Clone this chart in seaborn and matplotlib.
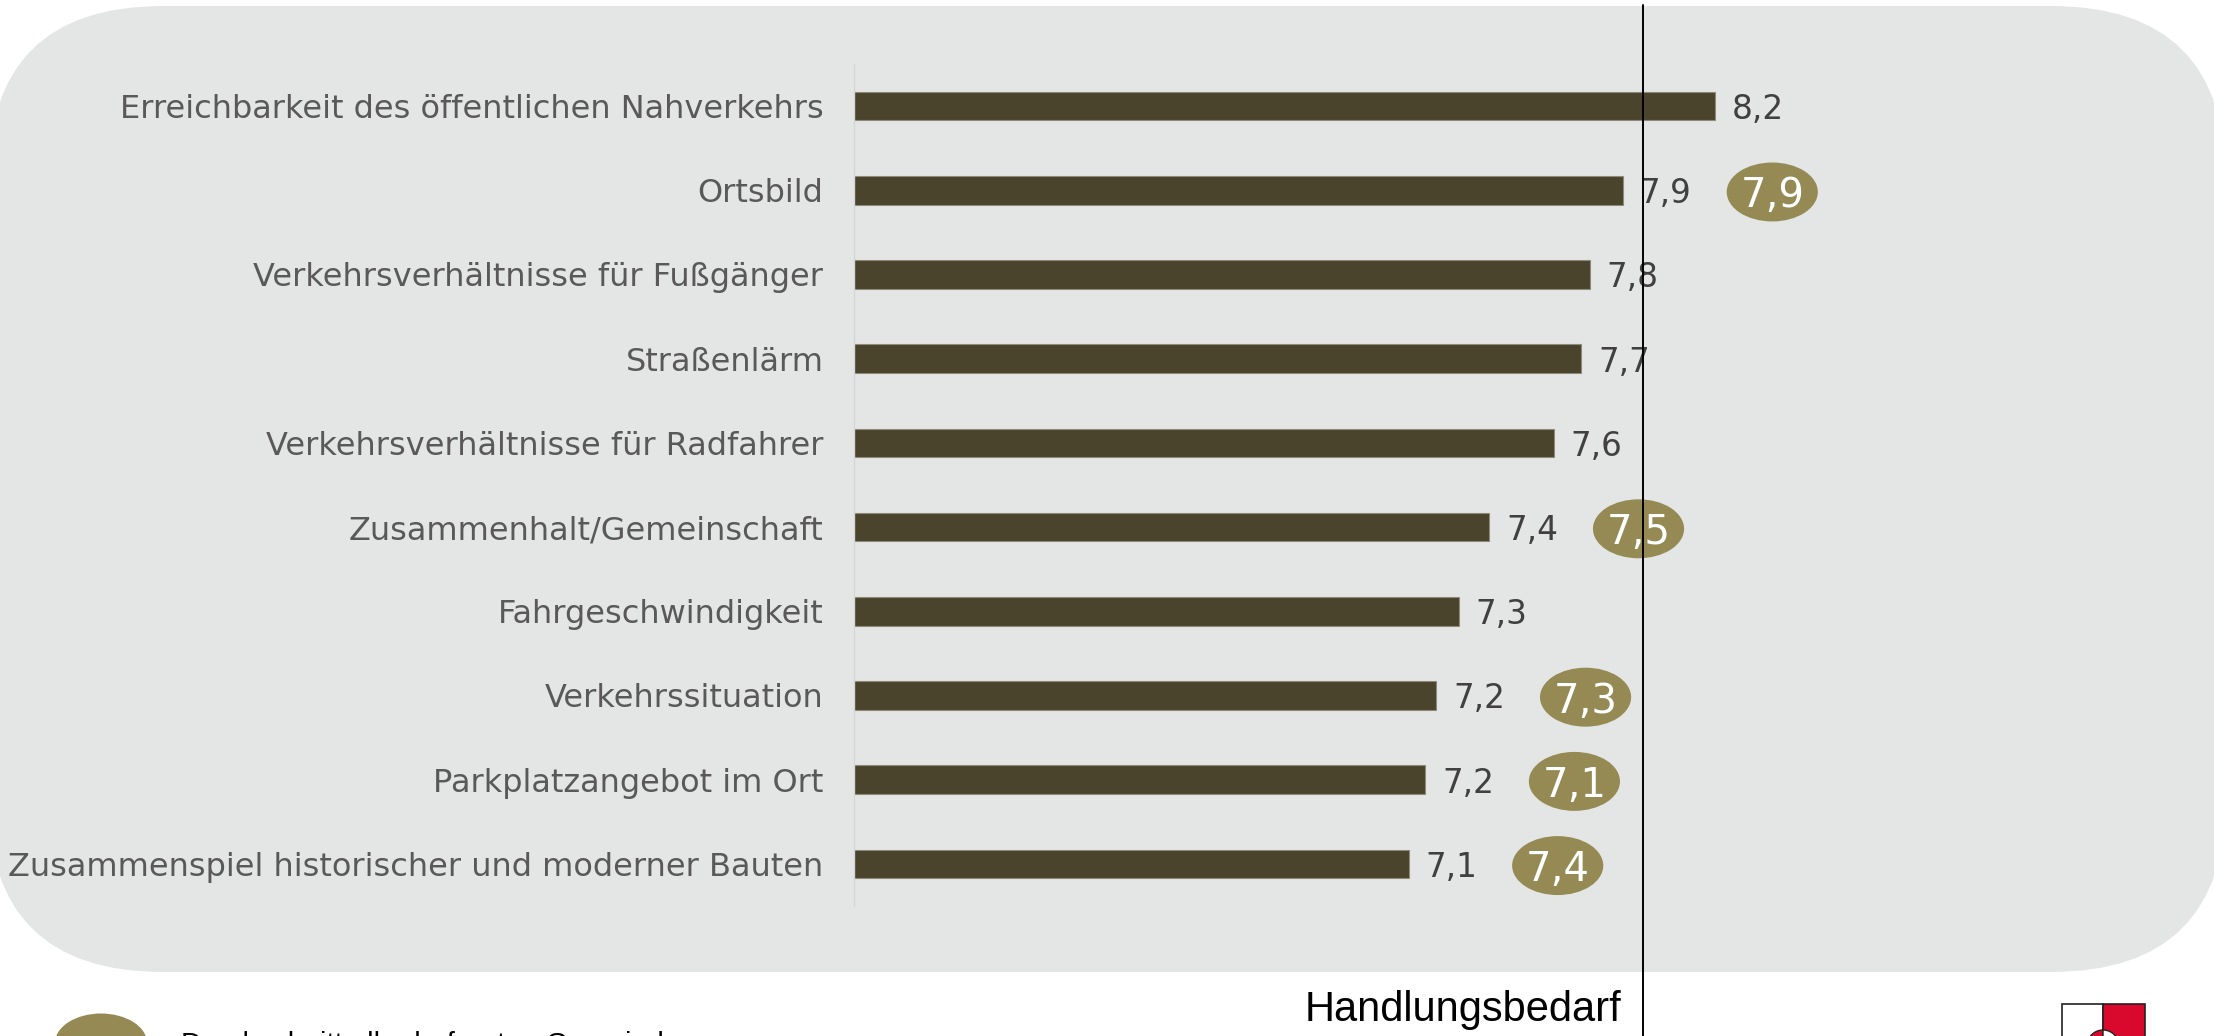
import matplotlib
matplotlib.use("Agg")
import matplotlib.pyplot as plt
from matplotlib.patches import FancyBboxPatch, Ellipse, Rectangle, Wedge
import seaborn as sns
import pandas as pd

# ---------------- data ----------------
categories = [
    "Erreichbarkeit des öffentlichen Nahverkehrs",
    "Ortsbild",
    "Verkehrsverhältnisse für Fußgänger",
    "Straßenlärm",
    "Verkehrsverhältnisse für Radfahrer",
    "Zusammenhalt/Gemeinschaft",
    "Fahrgeschwindigkeit",
    "Verkehrssituation",
    "Parkplatzangebot im Ort",
    "Zusammenspiel historischer und moderner Bauten",
]
values = [8.21, 7.88, 7.76, 7.73, 7.63, 7.40, 7.29, 7.21, 7.17, 7.11]
value_labels = ["8,2", "7,9", "7,8", "7,7", "7,6", "7,4", "7,3", "7,2", "7,2", "7,1"]
avg_labels = ["", "7,9", "", "", "", "7,5", "", "7,3", "7,1", "7,4"]
threshold = 7.95
threshold_label = "Handlungsbedarf"
legend_label = "Durchschnitt aller befragten Gemeinden"

# ---------------- style ----------------
BAR = "#4a442d"
OLIVE = "#958a53"
PANEL = "#e4e6e5"
LABEL = "#595959"
VALUE = "#404040"

sns.set_style("white")
plt.rcParams["font.family"] = ["DejaVu Sans"]

W, H = 2214, 1036
fig = plt.figure(figsize=(W / 100, H / 100), dpi=100)
fig.patch.set_facecolor("white")

# background axes in pixel units
bg = fig.add_axes([0, 0, 1, 1], zorder=0)
bg.set_xlim(0, W)
bg.set_ylim(0, H)
bg.axis("off")
bg.add_patch(FancyBboxPatch((-12, 64), W + 24, 966,
                            boxstyle="round,pad=0,rounding_size=175",
                            facecolor=PANEL, edgecolor="none"))

# legend ellipse + text (cut off at bottom)
bg.add_patch(Ellipse((101, -7), 92, 59, facecolor=OLIVE, edgecolor="none", clip_on=False))
bg.text(181, -17, legend_label, fontsize=21, color="black",
        family=["Liberation Sans", "DejaVu Sans"], ha="left", va="baseline")

# logo (coat of arms, partially visible)
bg.add_patch(Rectangle((2062, -40), 41, 72, facecolor="white", edgecolor="#222222", lw=1.2, clip_on=False))
bg.add_patch(Rectangle((2103, -40), 42, 72, facecolor="#d9082d", edgecolor="#222222", lw=1.2, clip_on=False))
bg.add_patch(Wedge((2103, -10), 16, 90, 270, facecolor="#d9082d", edgecolor="#222222", lw=1, clip_on=False))
bg.add_patch(Wedge((2103, -10), 16, -90, 90, facecolor="white", edgecolor="#222222", lw=1, clip_on=False))

# main axes
ax = fig.add_axes([854 / W, 130 / H, (W - 854) / W, 842 / H], zorder=1)
ax.set_facecolor("none")

df = pd.DataFrame({"Kategorie": categories, "Wert": values})
sns.barplot(data=df, x="Wert", y="Kategorie", orient="h", color=BAR,
            saturation=1, width=0.34, ax=ax, edgecolor="#8f8a78", linewidth=0.8)

ax.set_xlim(5.12, 10.0)
ax.set_xticks([])
ax.set_xlabel("")
ax.set_ylabel("")
ax.tick_params(axis="y", length=0, pad=22, labelsize=23, labelcolor=LABEL)
for s in ["top", "right", "bottom"]:
    ax.spines[s].set_visible(False)
ax.spines["left"].set_color("#d6d6d6")
ax.spines["left"].set_linewidth(1.0)

# value labels
for i, (v, lab) in enumerate(zip(values, value_labels)):
    ax.annotate(lab, xy=(v, i), xytext=(12, 0), textcoords="offset points",
                ha="left", va="center_baseline", fontsize=23.5, color=VALUE)

# comparison ellipses
for i, (v, lab) in enumerate(zip(values, avg_labels)):
    if lab:
        cx = v + 0.535
        ax.add_patch(Ellipse((cx, i + 0.02), 0.327, 0.70, facecolor=OLIVE,
                             edgecolor="none", zorder=3))
        ax.text(cx, i + 0.02, lab, ha="center", va="center_baseline", fontsize=29,
                color="white", zorder=4)

# threshold line
ax.axvline(threshold, ymin=-0.16, ymax=1.07, color="black", lw=1.4,
           clip_on=False, zorder=5)
fig.text(1621 / W, (H - 1021) / H, threshold_label, ha="right", va="baseline",
         fontsize=30, color="black", family=["Liberation Sans", "DejaVu Sans"])

fig.savefig("out.png", dpi=100)
